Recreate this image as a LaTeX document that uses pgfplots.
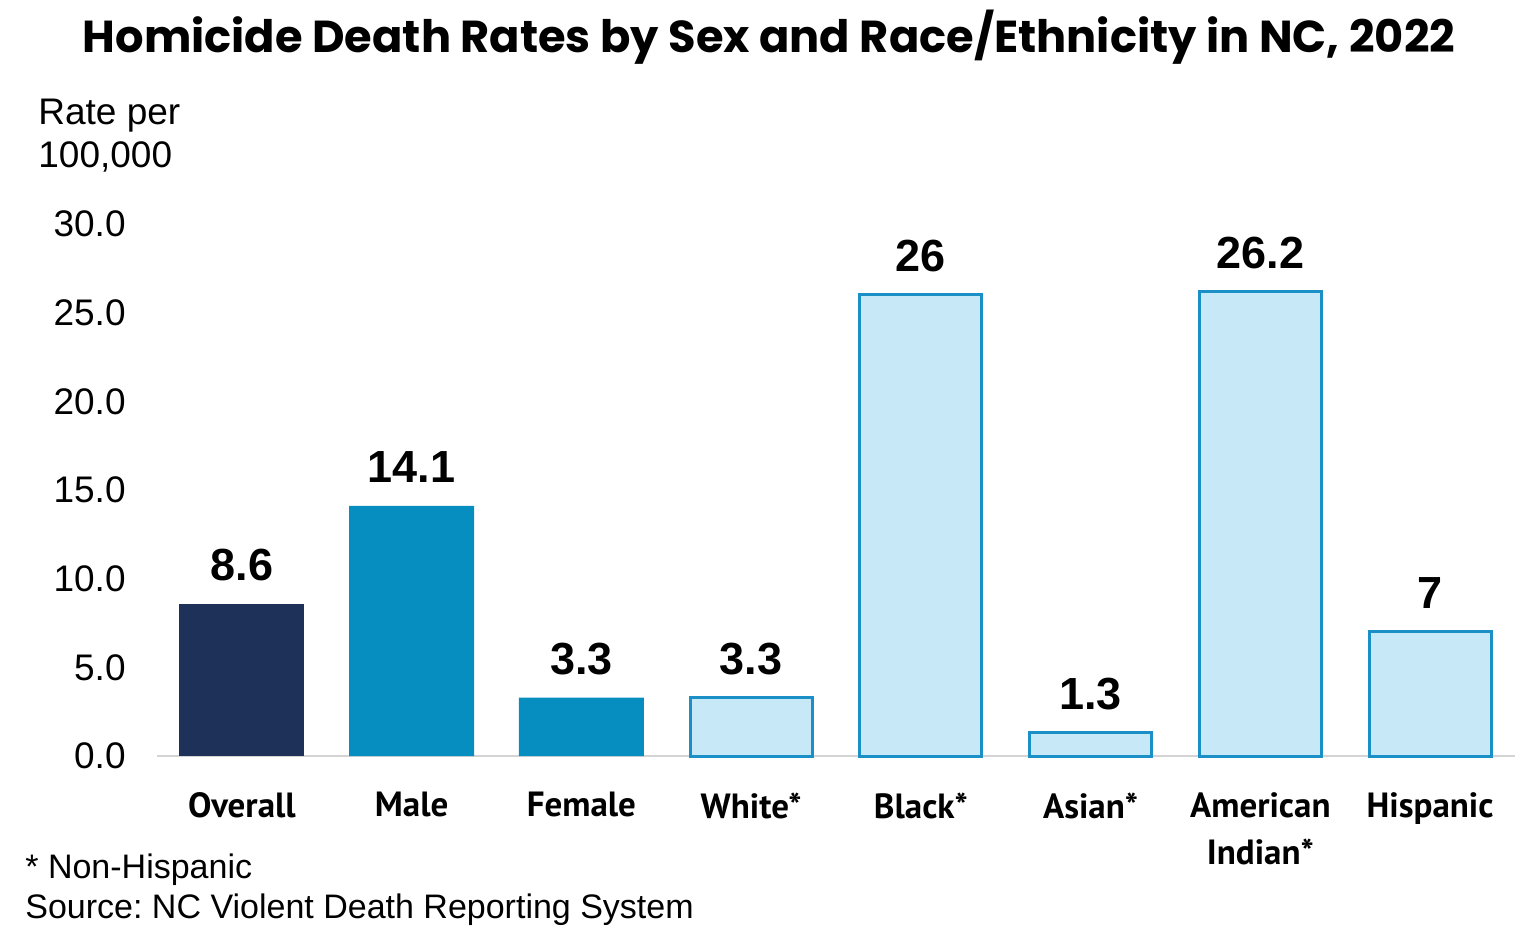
\documentclass[border=0pt]{standalone}
\usepackage{pgfplots}
\pgfplotsset{compat=1.18}
\usepackage{fontspec}
\setmainfont{Liberation Sans}
\newfontfamily\titlefont{Poppins}
\newfontfamily\catfont{PT Sans}
\frenchspacing

\definecolor{navy}{HTML}{1E3159}
\definecolor{midblue}{HTML}{068EC1}
\definecolor{paleblue}{HTML}{C7E8F7}
\definecolor{edgeblue}{HTML}{1B90C6}
\definecolor{axisgray}{HTML}{D4D4D4}

\begin{document}
\begin{tikzpicture}
% picture frame: 1540 x 939 px at 0.5pt per px
\useasboundingbox (0,0) rectangle (770pt,-469.5pt);

\node[anchor=base, inner sep=0pt] at (384.5pt,-26pt)
  {\resizebox{686pt}{!}{\titlefont\bfseries Homicide Death Rates by Sex and Race/Ethnicity in NC, 2022}};

\node[anchor=base west, inner sep=0pt, font=\fontsize{18.5}{22}\selectfont] at (19pt,-62pt) {Rate per};
\node[anchor=base west, inner sep=0pt, font=\fontsize{18.5}{22}\selectfont] at (19pt,-83.5pt) {100,000};

\begin{axis}[%
    at={(78.5pt,-378pt)}, anchor=south west,
    scale only axis,
    width=679pt, height=266pt,
    xmin=-0.5, xmax=7.5,
    ymin=0, ymax=30,
    clip=false,
    axis x line*=bottom,
    axis y line*=left,
    x axis line style={draw=axisgray, line width=1pt},
    y axis line style={draw=none},
    xtick={0,...,7},
    xticklabels={Overall, Male, Female, White*, Black*, Asian*, {American\\Indian*}, Hispanic},
    xtick style={draw=none},
    ytick={0,5,...,30},
    ytick style={draw=none},
    /pgf/number format/.cd, fixed, fixed zerofill, precision=1, assume math mode=true,
    /pgfplots/.cd,
    yticklabel style={font=\fontsize{18.5}{22}\selectfont, inner sep=0pt, xshift=-15.5pt},
    xticklabel style={font=\catfont\bfseries\fontsize{17.5}{23.5}\selectfont,
        align=center, anchor=north, inner sep=0pt, yshift=-18pt},
    nodes near coords,
    point meta=explicit symbolic,
    nodes near coords style={anchor=base, yshift=11.5pt, inner sep=0pt,
        font=\fontsize{22.5}{27}\selectfont\bfseries, text=black},
]

% Overall
\addplot[ybar, bar shift=0pt, bar width=62.5pt, fill=navy, draw=none]
    coordinates {(0,8.6) [8.6]};

% By sex
\addplot[ybar, bar shift=0pt, bar width=62.5pt, fill=midblue, draw=none]
    coordinates {(1,14.1) [14.1] (2,3.3) [3.3]};

% By race/ethnicity
\addplot[ybar, bar shift=0pt, bar width=61pt, fill=paleblue, draw=edgeblue, line width=1.5pt]
    coordinates {(3,3.3) [3.3] (4,26) [26] (5,1.3) [1.3] (6,26.2) [26.2] (7,7) [7]};

\end{axis}

\node[anchor=base west, inner sep=0pt, font=\fontsize{17}{20}\selectfont] at (12.5pt,-439pt) {* Non-Hispanic};
\node[anchor=base west, inner sep=0pt, font=\fontsize{17}{20}\selectfont] at (12.5pt,-459pt) {Source: NC Violent Death Reporting System};

\end{tikzpicture}
\end{document}
